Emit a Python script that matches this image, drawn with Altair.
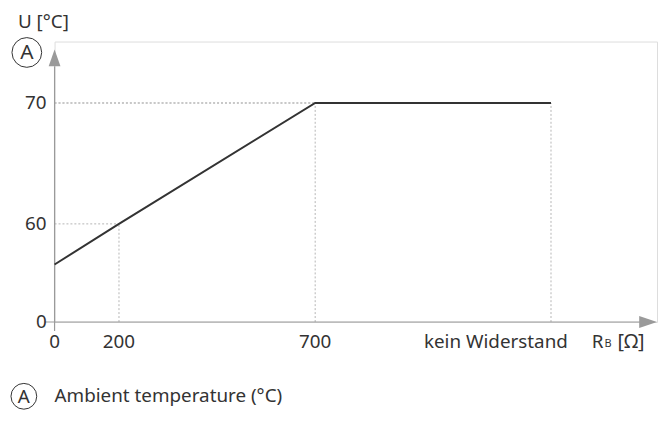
import altair as alt
import pandas as pd

# ---- data ----
r_values = [0, 200, 700, 1000]          # 1000 stands for "kein Widerstand"
r_labels = ["0", "200", "700", "kein Widerstand"]
u_values = [56, 60, 70, 70]             # U [°C]
y_ticks = [0, 60, 70]
y_tick_labels = ["0", "60", "70"]

FONT = "Noto Sans"
TXT = "#333333"
AX = "#9a9a9a"
GUIDE = "#b5b5b5"
FS = 19

W, H = 608, 283

xs = alt.Scale(domain=[0, 200, 700, 1000], range=[0, 65, 263, 501])
ys = alt.Scale(domain=[0, 56, 60, 70], range=[283, 225, 184, 62])

line_df = pd.DataFrame({"r": r_values, "u": u_values})

# dotted guide lines from each point (except the start) to both axes
g_rows = []
for r, u in zip(r_values[1:], u_values[1:]):
    g_rows.append({"x": r, "x2": r, "y": 0, "y2": u})
    g_rows.append({"x": 0, "x2": r, "y": u, "y2": u})
guides_df = pd.DataFrame(g_rows)

xlab_df = pd.DataFrame({"r": r_values[:3], "lab": r_labels[:3]})
xlab_last = pd.DataFrame({"r": r_values[3:], "lab": r_labels[3:]})
ylab_df = pd.DataFrame({"u": y_ticks, "lab": y_tick_labels})

X = lambda f: alt.X(f, type="quantitative", scale=xs, axis=None)
Y = lambda f: alt.Y(f, type="quantitative", scale=ys, axis=None)

guides = alt.Chart(guides_df).mark_rule(color=GUIDE, strokeDash=[2, 2], strokeWidth=1).encode(
    x=X("x"), x2="x2", y=Y("y"), y2="y2")

# axes (decoration)
one = pd.DataFrame({"k": [0]})
yaxis = alt.Chart(one).mark_rule(color=AX, strokeWidth=1.2).encode(
    x=alt.value(0), y=alt.value(25), y2=alt.value(292))
xaxis = alt.Chart(one).mark_rule(color=AX, strokeWidth=1.2).encode(
    x=alt.value(-10), x2=alt.value(592), y=alt.value(283))
up_arrow = alt.Chart(one).mark_point(
    shape="M0,-1L0.7,1L-0.7,1Z", filled=True, color=AX, opacity=1, size=289, strokeWidth=0
).encode(x=alt.value(0), y=alt.value(16.5))
right_arrow = alt.Chart(one).mark_point(
    shape="M1,0L-1,-0.67L-1,0.67Z", filled=True, color=AX, opacity=1, size=324, strokeWidth=0
).encode(x=alt.value(599), y=alt.value(283))

line = alt.Chart(line_df).mark_line(color=TXT, strokeWidth=2).encode(x=X("r"), y=Y("u"))

xlabels = alt.Chart(xlab_df).mark_text(font=FONT, fontSize=FS, color=TXT, baseline="middle").encode(
    x=X("r"), y=alt.value(303), text="lab:N")
xlabel_last = alt.Chart(xlab_last).mark_text(
    font=FONT, fontSize=FS, color=TXT, baseline="middle", align="right", dx=17).encode(
    x=X("r"), y=alt.value(303), text="lab:N")
ylabels = alt.Chart(ylab_df).mark_text(
    font=FONT, fontSize=FS, color=TXT, baseline="middle", align="right", dx=-8).encode(
    x=alt.value(0), y=Y("u"), text="lab:N")

def txt(s, x, y, size=FS, align="left"):
    return alt.Chart(one).mark_text(text=s, font=FONT, fontSize=size, color=TXT,
                                    align=align, baseline="middle").encode(
        x=alt.value(x), y=alt.value(y))

def circ(x, y, size):
    return alt.Chart(one).mark_point(shape="circle", size=size, filled=False, color=TXT,
                                     strokeWidth=1, opacity=1).encode(
        x=alt.value(x), y=alt.value(y))

decor = [
    txt("U [°C]", -37, -20),
    circ(-28, 11, 900), txt("A", -28, 12, 21, "center"),
    txt("R", 542, 303), txt("B", 555, 305, 11), txt("[Ω]", 568, 303, 20),
    circ(-31, 358, 676), txt("A", -31, 359, 19, "center"),
    txt("Ambient temperature (°C)", 0, 358),
]

chart = alt.layer(guides, yaxis, xaxis, up_arrow, right_arrow, line,
                  xlabels, xlabel_last, ylabels, *decor).properties(
    width=W, height=H,
    autosize=alt.AutoSizeParams(type="none"),
    padding={"left": 47, "right": 3, "top": 32, "bottom": 91},
).configure_view(stroke=None).configure(background="white")

chart.save("out.html", embed_options={"renderer": "svg", "actions": False})
